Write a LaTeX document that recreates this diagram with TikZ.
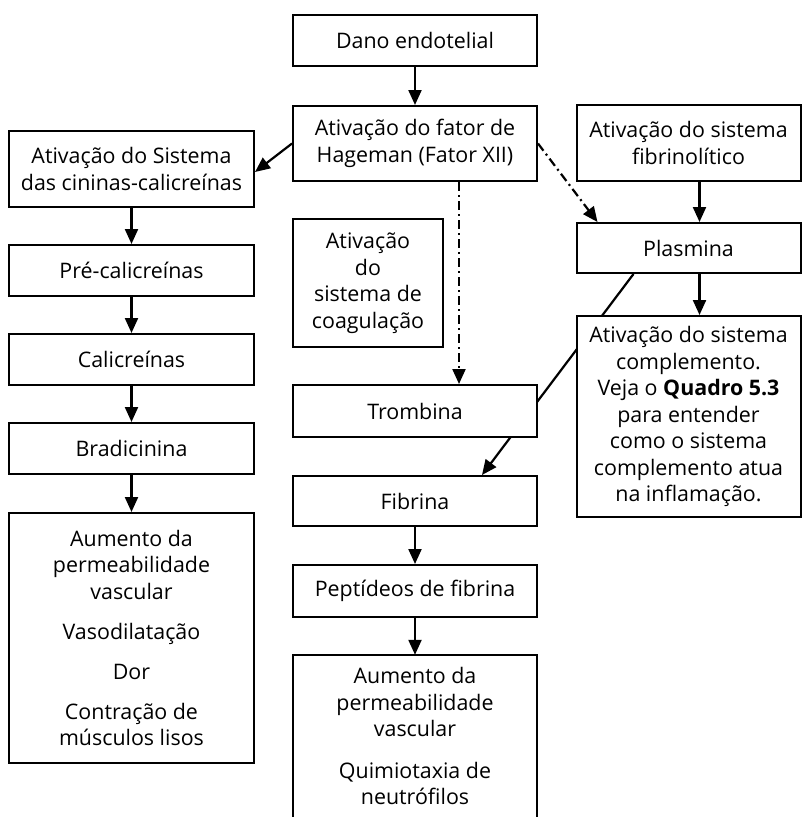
\documentclass[tikz,border=0pt]{standalone}
\usepackage{fontspec}
\setmainfont{Open Sans}
\usetikzlibrary{arrows.meta,backgrounds,calc}
\begin{document}
\begin{tikzpicture}[x=1pt,y=-1pt,
  box/.style={draw, line width=2pt, fill=white, align=center, inner sep=0pt,
    font=\fontsize{21.4}{26.5}\selectfont},
  txt/.style={align=center, inner sep=0pt, font=\fontsize{21.4}{26.5}\selectfont},
  frame/.style={line width=2pt},
  arr/.style={line width=2.2pt, -{Triangle[length=15pt,width=13pt]}},
  dd/.style={arr, dash pattern=on 9pt off 4pt on 2pt off 4pt}]
\useasboundingbox (0,0) rectangle (808,817);

% centre column
\node[box, minimum width=244pt, minimum height=51pt] (dano) at (415,40.5) {Dano endotelial};
\node[box, minimum width=244pt, minimum height=75pt] (hag) at (415,143.5) {Ativação do fator de\\Hageman (Fator XII)};
\node[box, minimum width=150pt, minimum height=128pt] (coag) at (368,283) {Ativação\\do\\sistema de\\coagulação};
\node[box, minimum width=244pt, minimum height=52pt] (tro) at (415,411) {Trombina};
\node[box, minimum width=244pt, minimum height=50pt] (fibr) at (415,501) {Fibrina};
\node[box, minimum width=244pt, minimum height=52pt] (pep) at (415,591) {Peptídeos de fibrina};
\node[txt, minimum width=244pt, minimum height=162pt] (efp) at (415,736)
  {Aumento da\\permeabilidade\\vascular\\[15pt]Quimiotaxia de\\neutrófilos};
\draw[frame] (efp.south west) |- (efp.north) -| (efp.south east);

% left column
\node[box, minimum width=245pt, minimum height=76pt] (sis) at (131.5,169) {Ativação do Sistema\\das cininas-calicreínas};
\node[box, minimum width=245pt, minimum height=51pt] (pre) at (131.5,270.5) {Pré-calicreínas};
\node[box, minimum width=245pt, minimum height=51pt] (cal) at (131.5,359.5) {Calicreínas};
\node[box, minimum width=245pt, minimum height=51pt] (bra) at (131.5,448.5) {Bradicinina};
\node[box, minimum width=245pt, minimum height=250pt] (efl) at (131.5,638)
  {Aumento da\\permeabilidade\\vascular\\[13.5pt]Vasodilatação\\[13.5pt]Dor\\[13.5pt]Contração de\\músculos lisos};

% right column
\node[box, minimum width=224pt, minimum height=76pt] (fib) at (688.5,143) {Ativação do sistema\\fibrinolítico};
\node[box, minimum width=224pt, minimum height=50pt] (pla) at (688.5,248) {Plasmina};
\node[box, minimum width=224pt, minimum height=201pt] (comp) at (688.5,416.5)
  {Ativação do sistema\\complemento.\\Veja o \textbf{Quadro 5.3}\\para entender\\como o sistema\\complemento atua\\na inflamação.};

% connectors
\draw[arr] (dano) -- (hag);
\draw[arr] (hag.west) -- ($(sis.east)+(0,3)$);
\draw[arr] (sis) -- (pre);
\draw[arr] (pre) -- (cal);
\draw[arr] (cal) -- (bra);
\draw[arr] (bra) -- (efl);
\draw[dd] ($(hag.south west)+(167,0)$) -- ($(tro.north west)+(167,0)$);
\draw[dd] (hag.east) -- ($(pla.north west)+(22,0)$);
\draw[arr] ($(fib.south)+(11,0)$) -- ($(pla.north)+(11,0)$);
\draw[arr] ($(pla.south)+(11,0)$) -- ($(comp.north)+(11,0)$);
\draw[arr] (fibr) -- (pep);
\draw[arr] (pep) -- (efp);
\coordinate (plaout) at ($(pla.south west)+(58,0)$);
\coordinate (fibrin) at ($(fibr.north west)+(190,0)$);
\begin{pgfonlayer}{background}
\draw[arr] (plaout) -- (fibrin);
\end{pgfonlayer}
\end{tikzpicture}
\end{document}
